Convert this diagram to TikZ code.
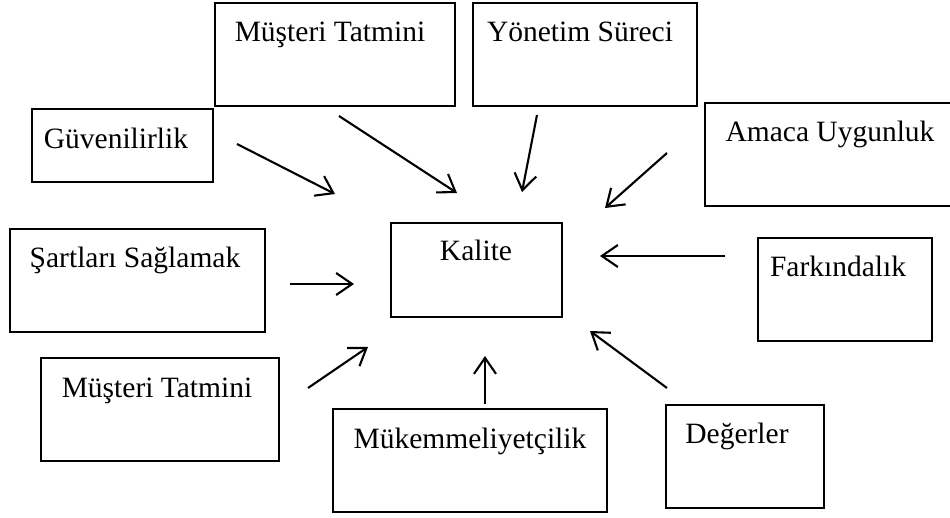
\documentclass[tikz,border=0pt]{standalone}
\usepackage{fontspec}
\setmainfont{Liberation Serif}
\usetikzlibrary{arrows.meta}
\begin{document}
\begin{tikzpicture}[x=1pt,y=-1pt,
  box/.style={draw,line width=1.9pt},
  lbl/.style={anchor=base,inner sep=0pt,font=\fontsize{29.5}{34}\selectfont},
  link/.style={line width=2.1pt,-{Straight Barb[length=16pt,width=22pt,line width=2.1pt]}}]
\useasboundingbox (0,0) rectangle (950,518);
\fill[white] (0,0) rectangle (950,518);
% boxes
\draw[box] (215,3) rectangle (455,106);
\draw[box] (473,3) rectangle (697,106);
\draw[box] (32,109) rectangle (213,182);
\draw[box] (705,103) rectangle (953,206);
\draw[box] (10,229) rectangle (265,332);
\draw[box] (391,223) rectangle (562,317);
\draw[box] (758,238) rectangle (932,341);
\draw[box] (41,358) rectangle (279,461);
\draw[box] (333,409) rectangle (607,512);
\draw[box] (666,405) rectangle (824,508);
% labels
\node[lbl] (mt1) at (330,42) {Müşteri Tatmini};
\node[lbl] (ys) at (580,42) {Yönetim Süreci};
\node[lbl] (gv) at (116,149) {Güvenilirlik};
\node[lbl] (au) at (830,142) {Amaca Uygunluk};
\node[lbl] (ss) at (135,268) {Şartları Sağlamak};
\node[lbl] (kal) at (476,261) {Kalite};
\node[lbl] (fk) at (838,277) {Farkındalık};
\node[lbl] (mt2) at (157,397) {Müşteri Tatmini};
\node[lbl] (mk) at (470,448) {Mükemmeliyetçilik};
\node[lbl] (dg) at (737,443) {Değerler};
% arrow end points
\coordinate (s1) at (237,144); \coordinate (e1) at (335,194);
\coordinate (s2) at (339,116); \coordinate (e2) at (457,193);
\coordinate (s3) at (537,115); \coordinate (e3) at (522,192);
\coordinate (s4) at (667,153); \coordinate (e4) at (605,208);
\coordinate (s5) at (725,256); \coordinate (e5) at (600,256);
\coordinate (s6) at (290,284); \coordinate (e6) at (354,284);
\coordinate (s7) at (308,388); \coordinate (e7) at (368,347);
\coordinate (s8) at (485,404); \coordinate (e8) at (485,356);
\coordinate (s9) at (667,388); \coordinate (e9) at (590,331);
\foreach \i in {1,...,9} \draw[link] (s\i) -- (e\i);
\end{tikzpicture}
\end{document}
